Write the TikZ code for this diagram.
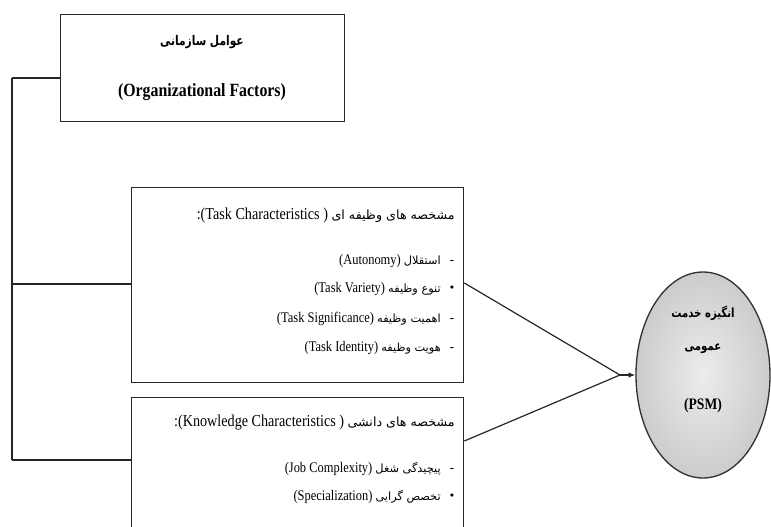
\documentclass[tikz,border=0pt]{standalone}
\usepackage{fontspec}
\setmainfont{Liberation Serif}[FakeStretch=0.85]
\newfontfamily\fa[Script=Arabic]{DejaVu Sans}
\newfontfamily\fan[Script=Arabic,FakeStretch=0.8]{DejaVu Sans}
\TeXXeTstate=1
\usetikzlibrary{arrows.meta,shapes.geometric}
\newcommand{\per}[1]{{\fa\beginR #1\endR}}
\newcommand{\pern}[1]{{\fan\beginR #1\endR}}
\tikzset{
  box/.style={draw=black!85, line width=1pt},
  conn/.style={draw=black!85, line width=0.9pt},
  item/.style={anchor=base east, inner sep=0pt, font=\fontsize{11}{13}\selectfont},
  bul/.style={anchor=base, inner sep=0pt, font=\fontsize{11}{13}\selectfont},
  head/.style={anchor=base east, inner sep=0pt, font=\fontsize{12.5}{15}\selectfont},
  pi/.style={font=\fontsize{8.5}{10}\selectfont},
}
\begin{document}
\begin{tikzpicture}[x=0.75pt,y=-0.75pt]
\useasboundingbox (0,0) rectangle (771,526);
\clip (0,0) rectangle (771,526);
% top box
\node[box, minimum width=284*0.75pt, minimum height=107*0.75pt, anchor=north west, inner sep=0pt] (org) at (60,14) {};
\node[inner sep=0pt, font=\fontsize{10}{12}\selectfont\bfseries] (orgfa) at (202,42) {\pern{عوامل سازمانی}};
\node[inner sep=0pt, font=\fontsize{14}{16}\selectfont\bfseries] (orgen) at (202,92) {(Organizational Factors)};
% task box
\node[box, minimum width=332*0.75pt, minimum height=195*0.75pt, anchor=north west, inner sep=0pt] (task) at (131,187) {};
\node[head] (taskh) at (455,219) {:(Task Characteristics ) {\fontsize{9.5}{11}\selectfont\per{مشخصه های وظیفه ای}}};
\node[item] (t1) at (441,264) {(Autonomy) {\fontsize{8.5}{10}\selectfont\per{استقلال}}};
\node[item] (t2) at (441,292) {(Task Variety) {\fontsize{8.5}{10}\selectfont\per{تنوع وظیفه}}};
\node[item] (t3) at (441,322) {(Task Significance) {\fontsize{8.5}{10}\selectfont\per{اهمیت وظیفه}}};
\node[item] (t4) at (441,351) {(Task Identity) {\fontsize{8.5}{10}\selectfont\per{هویت وظیفه}}};
\node[bul] (m1) at (452,264) {-};
\node[bul] (m2) at (452,291) {\fontsize{8}{9}\selectfont\fa •};
\node[bul] (m3) at (452,322) {-};
\node[bul] (m4) at (452,351) {-};
% knowledge box
\node[box, minimum width=332*0.75pt, minimum height=140*0.75pt, anchor=north west, inner sep=0pt] (know) at (131,397) {};
\node[head] (knowh) at (455,426) {:(Knowledge Characteristics ) {\fontsize{9.5}{11}\selectfont\per{مشخصه های دانشی}}};
\node[item] (k1) at (441,472) {(Job Complexity) {\fontsize{8.5}{10}\selectfont\per{پیچیدگی شغل}}};
\node[item] (k2) at (441,500) {(Specialization) {\fontsize{8.5}{10}\selectfont\per{تخصص گرایی}}};
\node[bul] (m5) at (452,472) {-};
\node[bul] (m6) at (452,499) {\fontsize{8}{9}\selectfont\fa •};
% ellipse
\node[draw=black!80, line width=1pt, ellipse, minimum width=134*0.75pt, minimum height=206*0.75pt, inner color=gray!15, outer color=gray!40, inner sep=0pt] (psm) at (703,375) {};
\node[inner sep=0pt, font=\fontsize{9.5}{11}\selectfont\bfseries] (psm1) at (703,313) {\pern{انگیزه خدمت}};
\node[inner sep=0pt, font=\fontsize{9.5}{11}\selectfont\bfseries] (psm2) at (703,349) {\pern{عمومی}};
\node[inner sep=0pt, font=\fontsize{12}{14}\selectfont\bfseries] (psm3) at (703,406) {(PSM)};
% connectors
\coordinate (b1) at (12,78);
\coordinate (b2) at (12,284);
\coordinate (b3) at (12,460);
\coordinate (j) at (620,375);
\draw[conn] (b1) -- (b3);
\draw[conn] (b1) -- (org.west |- b1);
\draw[conn] (b2) -- (task.west |- b2);
\draw[conn] (b3) -- (know.west |- b3);
\draw[conn] (task.east |- 0,283) -- (j);
\draw[conn] (know.east |- 0,441) -- (j);
\draw[conn, -{Latex[length=5pt,width=4pt]}] (j) -- (psm.west);
\end{tikzpicture}
\end{document}
